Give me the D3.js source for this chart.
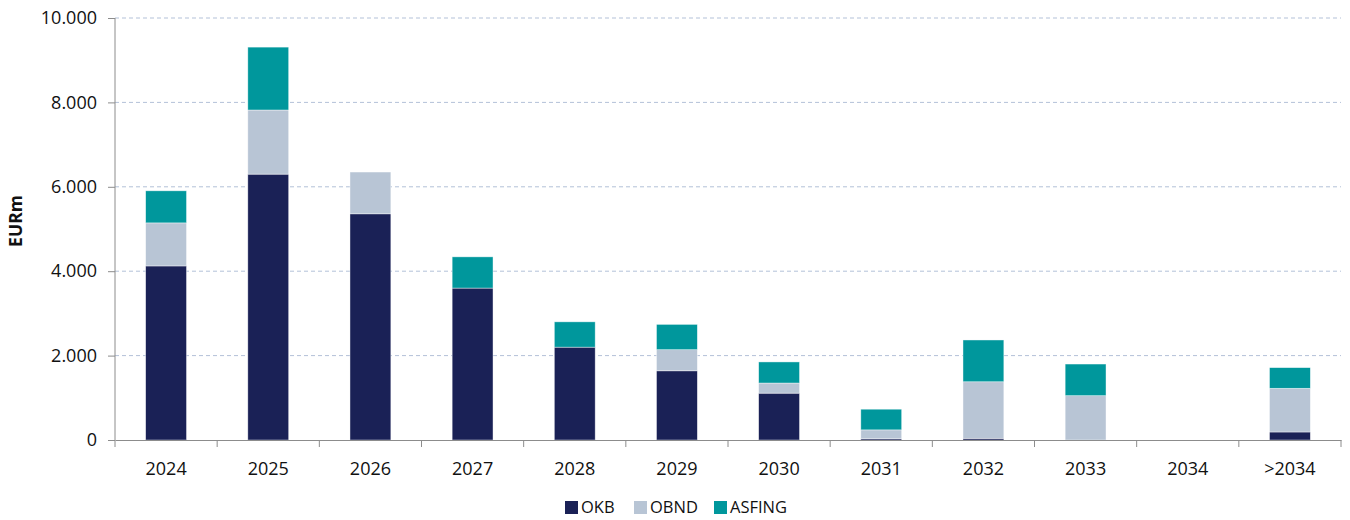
<!DOCTYPE html>
<html>
<head>
<meta charset="utf-8">
<script src="https://cdn.jsdelivr.net/npm/d3@7"></script>
<style>
  body { margin: 0; background: #fff; }
  svg text { font-family: "Open Sans", "Noto Sans", sans-serif; fill: #111; }
</style>
</head>
<body>
<div id="chart"></div>
<script>
const categories = ['2024', '2025', '2026', '2027', '2028', '2029', '2030', '2031', '2032', '2033', '2034', '>2034'];
const seriesNames = ['OKB', 'OBND', 'ASFING'];
const okb    = [4125, 6300, 5360, 3600, 2200, 1640, 1110,  30,   40,    0, 0,  190];
const obnd   = [1020, 1520,  990,    0,    0,  500,  240, 210, 1340, 1050, 0, 1035];
const asfing = [ 760, 1490,    0,  740,  600,  600,  500, 490,  990,  750, 0,  490];
const yTicks = [0, 2000, 4000, 6000, 8000, 10000];

const colors = ['#1a2156', '#b8c5d5', '#00979c'];

const width = 1350,
      height = 520,
      margin = {top: 18, right: 9, bottom: 80, left: 115};

const rows = categories.map((c, i) => ({cat: c, OKB: okb[i], OBND: obnd[i], ASFING: asfing[i]}));
const stacked = d3.stack().keys(seriesNames)(rows);

const x = d3.scaleBand()
            .domain(categories)
            .range([margin.left, width - margin.right])
            .paddingInner(0.6)
            .paddingOuter(0.3);

const y = d3.scaleLinear()
            .domain([0, 10000])
            .range([height - margin.bottom, margin.top]);

const svg = d3.select('#chart')
              .append('svg')
              .attr('width', width)
              .attr('height', height);

const fmt = v => d3.format(',')(v).replace(/,/g, '.');

// gridlines
svg.append('g')
   .selectAll('line')
   .data(yTicks.filter(t => t > 0))
   .enter()
   .append('line')
   .attr('x1', margin.left)
   .attr('x2', width - margin.right)
   .attr('y1', d => y(d))
   .attr('y2', d => y(d))
   .attr('stroke', '#b3c1d8')
   .attr('stroke-width', 1)
   .attr('stroke-dasharray', '4,3');

// bars
svg.append('g')
   .selectAll('g')
   .data(stacked)
   .enter()
   .append('g')
   .attr('fill', (d, i) => colors[i])
   .selectAll('rect')
   .data(d => d)
   .enter()
   .filter(d => d[1] - d[0] > 0)
   .append('rect')
   .attr('x', d => x(d.data.cat))
   .attr('width', x.bandwidth())
   .attr('y', d => y(d[1]))
   .attr('height', d => y(d[0]) - y(d[1]))
   .attr('stroke', 'rgba(255,255,255,0.6)')
   .attr('stroke-width', 0.7);

// y axis
const yAxis = svg.append('g')
   .attr('transform', `translate(${margin.left},0)`)
   .call(d3.axisLeft(y).tickValues(yTicks).tickFormat(fmt).tickSize(7).tickPadding(11));
yAxis.select('.domain').attr('stroke', '#8c8c8c').attr('d', `M0,${y(0) + 7}V${y(10000)}`);
yAxis.selectAll('.tick line').attr('stroke', '#8c8c8c');
yAxis.selectAll('.tick text').style('font-size', '18px').attr('fill', '#111');

// x axis
const bounds = d3.range(categories.length + 1).map(i => margin.left + i * (width - margin.left - margin.right) / categories.length);
const xAxis = svg.append('g')
   .attr('transform', `translate(0,${y(0)})`)
   .call(d3.axisBottom(x).tickSize(0).tickPadding(22));
xAxis.select('.domain').attr('stroke', '#8c8c8c');
xAxis.selectAll('.tick text').style('font-size', '18px').attr('fill', '#111');
svg.append('g')
   .selectAll('line')
   .data(bounds.slice(1))
   .enter()
   .append('line')
   .attr('x1', d => d).attr('x2', d => d)
   .attr('y1', y(0)).attr('y2', y(0) + 7)
   .attr('stroke', '#8c8c8c');

// y label
svg.append('text')
   .attr('transform', `translate(22,221) rotate(-90)`)
   .attr('text-anchor', 'middle')
   .style('font-size', '17.5px')
   .style('font-weight', 'bold')
   .text('EURm');

// legend
const legendX = [565, 634, 714];
const legend = svg.append('g')
   .selectAll('g')
   .data(seriesNames)
   .enter()
   .append('g')
   .attr('transform', (d, i) => `translate(${legendX[i]},507)`);
legend.append('rect')
   .attr('x', 0).attr('y', -6)
   .attr('width', 13).attr('height', 13)
   .attr('fill', (d, i) => colors[i]);
legend.append('text')
   .attr('x', 16).attr('y', 0)
   .attr('dy', '0.37em')
   .style('font-size', '16.5px')
   .text(d => d);
</script>
</body>
</html>
